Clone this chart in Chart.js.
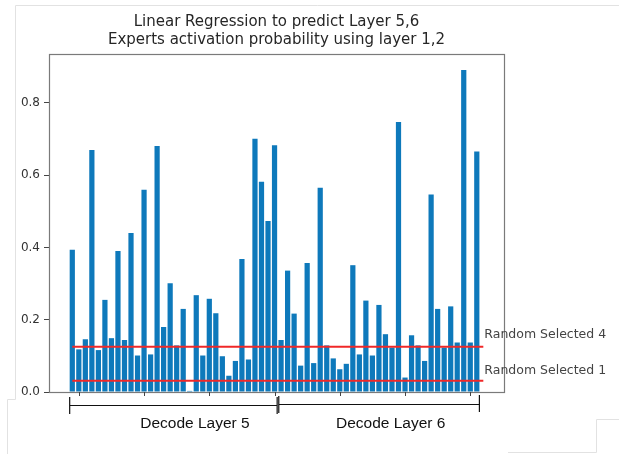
<!DOCTYPE html>
<html>
<head>
<meta charset="utf-8">
<script src="https://cdn.jsdelivr.net/npm/chart.js@4.4.1/dist/chart.umd.min.js"></script>
<style>
  html, body { margin: 0; padding: 0; background: #fff; }
  #wrap { width: 619px; height: 454px; }
</style>
</head>
<body>
<div id="wrap"><canvas id="chart" width="619" height="454"></canvas></div>
<script>
// Aktivasi expert layer 5 (32) dan layer 6 (31)
const layer5 = [0.394, 0.118, 0.146, 0.670, 0.116, 0.255, 0.149, 0.390, 0.144, 0.440,
                0.101, 0.560, 0.104, 0.681, 0.180, 0.301, 0.129, 0.230, 0.003, 0.268,
                0.101, 0.258, 0.218, 0.099, 0.045, 0.086, 0.368, 0.090, 0.701, 0.582,
                0.473, 0.683];
const layer6 = [0.144, 0.336, 0.217, 0.073, 0.357, 0.080, 0.565, 0.129, 0.093, 0.063,
                0.078, 0.351, 0.104, 0.253, 0.101, 0.241, 0.160, 0.123, 0.747, 0.040,
                0.157, 0.129, 0.086, 0.547, 0.230, 0.123, 0.237, 0.137, 0.891, 0.137,
                0.666];

// Garis acak (random selected k dari 32)
const randomNames = ['Random Selected 4', 'Random Selected 1'];
const randomValues = [4 / 32, 1 / 32];
const randomTextY = [0.15, 0.05];

const yTicks = [0.0, 0.2, 0.4, 0.6, 0.8];
const xTicks = [1, 11, 21, 31, 41, 51, 61];
const groupNames = ['Decode Layer 5', 'Decode Layer 6'];

const titleLines = ['Linear Regression to predict Layer 5,6',
                    'Experts activation probability using layer 1,2'];

const allValues = layer5.concat(layer6);
const barPoints = allValues.map((v, i) => ({ x: i, y: v }));
const lineEnd = allValues.length;

const ctx = document.getElementById('chart').getContext('2d');

const decorPlugin = {
    id: 'decor',
    afterDraw(chart) {
        const c = chart.ctx;
        const a = chart.chartArea;
        const xs = chart.scales.x;
        const ys = chart.scales.y;
        c.save();

        // garis tepi tipis dari tangkapan layar
        c.strokeStyle = '#e2e2e2';
        c.lineWidth = 1;
        c.beginPath();
        c.moveTo(619, 5.5); c.lineTo(15.5, 5.5); c.lineTo(15.5, 399.5);
        c.lineTo(7.5, 399.5); c.lineTo(7.5, 454);
        c.moveTo(508, 452.5); c.lineTo(596.5, 452.5); c.lineTo(596.5, 419.5); c.lineTo(619, 419.5);
        c.stroke();

        // bingkai sumbu
        c.strokeStyle = '#7a7a7a';
        c.lineWidth = 1.2;
        c.strokeRect(Math.round(a.left) + 0.5, Math.round(a.top) + 0.5,
                     Math.round(a.right - a.left), Math.round(a.bottom - a.top));

        // tick sumbu x
        c.strokeStyle = '#444';
        c.lineWidth = 1;
        c.beginPath();
        xTicks.forEach(t => {
            const px = Math.round(xs.getPixelForValue(t)) + 0.5;
            c.moveTo(px, a.bottom); c.lineTo(px, a.bottom + 4);
        });
        c.stroke();

        // judul
        c.fillStyle = '#262626';
        c.font = '15px "DejaVu Sans"';
        c.textAlign = 'center';
        c.textBaseline = 'alphabetic';
        const cx = (a.left + a.right) / 2;
        c.fillText(titleLines[0], cx, 26);
        c.fillText(titleLines[1], cx, 44);

        // label garis acak
        c.fillStyle = '#444';
        c.font = '12.5px "DejaVu Sans"';
        c.textAlign = 'left';
        randomNames.forEach((name, i) => {
            c.fillText(name, xs.getPixelForValue(lineEnd) + 1, ys.getPixelForValue(randomTextY[i]));
        });

        // kurung penanda layer
        const px = v => xs.getPixelForValue(v);
        c.strokeStyle = '#111';
        c.lineWidth = 1.2;
        c.beginPath();
        c.moveTo(px(-0.4), 397); c.lineTo(px(-0.4), 414);
        c.moveTo(px(-0.4), 405.5); c.lineTo(px(31.4), 405.5);
        c.moveTo(px(31.4), 397); c.lineTo(px(31.4), 414);
        c.moveTo(px(31.65), 396); c.lineTo(px(31.65), 413);
        c.moveTo(px(31.65), 404.5); c.lineTo(px(62.4), 404.5);
        c.moveTo(px(62.4), 395); c.lineTo(px(62.4), 412);
        c.stroke();

        c.fillStyle = '#111';
        c.font = '15.5px "Liberation Sans"';
        c.textAlign = 'center';
        c.fillText(groupNames[0], px(18.8), 427.5);
        c.fillText(groupNames[1], px(48.8), 427.5);

        c.restore();
    }
};

const chart = new Chart(ctx, {
    type: 'bar',
    data: {
        datasets: [
            {
                type: 'bar',
                data: barPoints,
                backgroundColor: '#0e79bb',
                borderWidth: 0,
                barPercentage: 0.8,
                categoryPercentage: 1.0,
                order: 2
            },
            ...randomValues.map(v => ({
                type: 'line',
                data: [{ x: 0, y: v }, { x: lineEnd, y: v }],
                borderColor: '#f02828',
                borderWidth: 2,
                pointRadius: 0,
                fill: false,
                order: 1
            }))
        ]
    },
    options: {
        responsive: false,
        animation: false,
        layout: { padding: { left: 0, top: 54, right: 115, bottom: 62 } },
        plugins: {
            legend: { display: false },
            tooltip: { enabled: false },
            title: { display: false }
        },
        scales: {
            x: {
                type: 'linear',
                offset: false,
                min: -3.57,
                max: lineEnd + 3.17,
                display: false
            },
            y: {
                min: 0,
                max: Math.max(...allValues) * 1.05,
                afterBuildTicks: scale => { scale.ticks = yTicks.map(v => ({ value: v })); },
                afterFit: scale => { scale.width = 49; },
                border: { display: false },
                grid: {
                    drawOnChartArea: false,
                    drawTicks: true,
                    tickLength: 5,
                    color: '#444'
                },
                ticks: {
                    padding: 4,
                    color: '#333',
                    font: { family: 'DejaVu Sans', size: 12 },
                    callback: v => v.toFixed(1)
                }
            }
        }
    },
    plugins: [decorPlugin]
});
</script>
</body>
</html>
